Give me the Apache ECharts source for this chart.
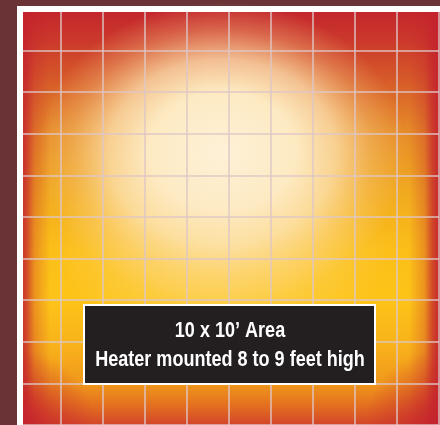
<!DOCTYPE html>
<html style="height: 100%" lang="en">
<head>
    <meta charset="UTF-8">
    <title>Heater coverage</title>
</head>
<body style="height: 100%; margin: 0; background: #6a3437">
<div id="main" style="width: 440px; height: 425px"></div>

<script src="https://cdn.jsdelivr.net/npm/echarts@6/dist/echarts.min.js"></script>
<script type="text/javascript">

    // 10 x 10 foot floor, one cell per foot
    var xFeet = ['1', '2', '3', '4', '5', '6', '7', '8', '9', '10'];
    var yFeet = ['1', '2', '3', '4', '5', '6', '7', '8', '9', '10'];
    var labelLines = ['10 x 10\u2019 Area', 'Heater mounted 8 to 9 feet high'];

    var myChart = echarts.init(document.getElementById('main'));

    var RED = 'rgba(196,35,45,';

    // floor warmth, top to bottom
    var floorHeat = {
        type: 'linear', x: 0, y: 9, x2: 0, y2: 425, global: true,
        colorStops: [
            {offset: 0, color: '#c3252c'},
            {offset: 0.075, color: '#cb382b'},
            {offset: 0.17, color: '#d65a29'},
            {offset: 0.29, color: '#e58a28'},
            {offset: 0.44, color: '#f1aa20'},
            {offset: 0.58, color: '#fbbf18'},
            {offset: 0.7, color: '#fdc418'},
            {offset: 0.81, color: '#f8b21a'},
            {offset: 0.9, color: '#f0981c'},
            {offset: 0.95, color: '#e4721f'},
            {offset: 1, color: '#d3452a'}
        ]
    };
    var leftEdge = {
        type: 'linear', x: 19, y: 0, x2: 50, y2: 0, global: true,
        colorStops: [
            {offset: 0, color: RED + '1)'},
            {offset: 0.25, color: RED + '0.75)'},
            {offset: 0.5, color: RED + '0.3)'},
            {offset: 1, color: RED + '0)'}
        ]
    };
    var rightEdge = {
        type: 'linear', x: 440, y: 0, x2: 409, y2: 0, global: true,
        colorStops: leftEdge.colorStops
    };
    var cornerGlow = function (cx) {
        return {
            type: 'radial', x: cx, y: 425, r: 75, global: true,
            colorStops: [
                {offset: 0, color: RED + '0.9)'},
                {offset: 0.5, color: RED + '0.45)'},
                {offset: 1, color: RED + '0)'}
            ]
        };
    };
    // cream hot spot right under the heater (ellipse via scaled circle)
    var hotSpot = {
        type: 'radial', x: 0.5, y: 0.5, r: 0.5,
        colorStops: [
            {offset: 0, color: 'rgba(254,241,216,1)'},
            {offset: 0.4, color: 'rgba(253,234,194,1)'},
            {offset: 0.62, color: 'rgba(253,228,180,0.75)'},
            {offset: 0.82, color: 'rgba(252,216,150,0.3)'},
            {offset: 1, color: 'rgba(252,210,140,0)'}
        ]
    };
    // softer pale-yellow spill below it
    var spill = {
        type: 'radial', x: 0.5, y: 0.5, r: 0.5,
        colorStops: [
            {offset: 0, color: 'rgba(253,226,150,0.7)'},
            {offset: 0.5, color: 'rgba(253,222,140,0.45)'},
            {offset: 1, color: 'rgba(253,215,120,0)'}
        ]
    };

    var textFont = 'bold 22px "Liberation Sans", Arial, sans-serif';
    var gridLine = {color: 'rgba(222,198,198,0.7)', width: 2};

    var option = {
        backgroundColor: '#6a3437',
        animation: false,
        grid: {left: 19, top: 9, width: 420, height: 420},
        xAxis: {
            type: 'category',
            data: xFeet,
            axisLine: {show: false},
            axisTick: {show: false},
            axisLabel: {show: false},
            splitLine: {show: true, lineStyle: gridLine}
        },
        yAxis: {
            type: 'category',
            data: yFeet,
            axisLine: {show: false},
            axisTick: {show: false},
            axisLabel: {show: false},
            splitLine: {show: true, lineStyle: gridLine}
        },
        series: [],
        graphic: [
            {type: 'rect', z: -20, shape: {x: 19, y: 9, width: 421, height: 416}, style: {fill: floorHeat}},
            {type: 'circle', z: -19, x: 222, y: 245, scaleX: 1.6, scaleY: 1,
                shape: {cx: 0, cy: 0, r: 105}, style: {fill: spill}},
            {type: 'circle', z: -19, x: 222, y: 152, scaleX: 1.23, scaleY: 1,
                shape: {cx: 0, cy: 0, r: 150}, style: {fill: hotSpot}},
            {type: 'rect', z: -18, shape: {x: 19, y: 9, width: 32, height: 416}, style: {fill: leftEdge}},
            {type: 'rect', z: -18, shape: {x: 408, y: 9, width: 32, height: 416}, style: {fill: rightEdge}},
            {type: 'rect', z: -18, shape: {x: 19, y: 350, width: 80, height: 75}, style: {fill: cornerGlow(19)}},
            {type: 'rect', z: -18, shape: {x: 360, y: 350, width: 80, height: 75}, style: {fill: cornerGlow(440)}},
            {type: 'rect', z: 100, shape: {x: 20, y: 9, width: 440, height: 430},
                style: {fill: null, stroke: '#ffffff', lineWidth: 6}},
            {type: 'rect', z: 101, shape: {x: 84, y: 305, width: 291, height: 79},
                style: {fill: '#231f20', stroke: '#ffffff', lineWidth: 2}},
            {type: 'text', z: 102, x: 230, y: 331, scaleX: 0.82,
                style: {text: labelLines[0], fill: '#ffffff', font: textFont,
                    align: 'center', verticalAlign: 'middle'}},
            {type: 'text', z: 102, x: 230, y: 360, scaleX: 0.82,
                style: {text: labelLines[1], fill: '#ffffff', font: textFont,
                    align: 'center', verticalAlign: 'middle'}}
        ]
    };

    myChart.setOption(option);

</script>
</body>
</html>
